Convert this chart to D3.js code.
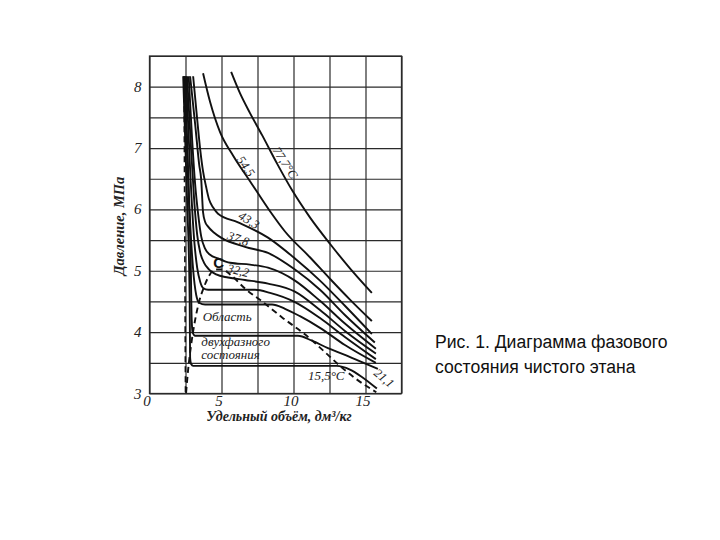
<!DOCTYPE html>
<html><head><meta charset="utf-8">
<script src="https://cdn.jsdelivr.net/npm/d3@7"></script>
<style>body{margin:0;background:#fff}</style>
</head><body>
<svg id="c" width="720" height="540"></svg>
<script>
// ---- tick values ----
const xTicks = [0, 5, 10, 15];
const yTicks = [3, 4, 5, 6, 7, 8];
const xGrid = [0, 2.5, 5, 7.5, 10, 12.5, 15, 17.5];
const yGrid = [3, 3.5, 4, 4.5, 5, 5.5, 6, 6.5, 7, 7.5, 8, 8.5];

// ---- isotherms: specific volume (dm3/kg) and pressure (MPa) ----
const v777 = [5.67, 6.29, 6.98, 7.82, 8.85, 9.96, 11.14, 12.53, 13.92, 15.44];
const p777 = [8.24, 7.89, 7.57, 7.21, 6.75, 6.29, 5.87, 5.44, 5.04, 4.64];
const v545 = [3.72, 4.21, 4.90, 5.80, 6.98, 8.37, 9.41, 11.14, 12.53, 13.92, 15.44];
const p545 = [8.22, 7.75, 7.26, 6.88, 6.46, 5.97, 5.64, 5.22, 4.87, 4.53, 4.18];
const v433 = [3.03, 3.31, 3.52, 3.72, 3.93, 4.14, 4.42, 4.76, 6.15, 8.23, 10.10, 11.84, 13.57, 15.44];
const p433 = [8.17, 7.47, 6.98, 6.62, 6.37, 6.16, 6.03, 5.93, 5.79, 5.54, 5.20, 4.84, 4.43, 3.97];
const v378 = [2.82, 3.17, 3.45, 3.59, 3.72, 3.86, 4.07, 4.49, 4.97, 6.63, 8.23, 10.10, 11.84, 13.57, 15.65];
const p378 = [8.17, 7.39, 6.73, 6.49, 5.95, 5.80, 5.72, 5.62, 5.54, 5.39, 5.29, 5.02, 4.69, 4.28, 3.83];
const v350 = [2.72, 2.96, 3.17, 3.38, 3.59, 3.86, 4.21, 4.76, 5.60, 6.98, 8.23, 10.10, 11.84, 13.57, 15.72];
const p350 = [8.17, 7.14, 6.41, 5.92, 5.56, 5.36, 5.26, 5.20, 5.13, 5.10, 5.05, 4.84, 4.51, 4.14, 3.73];
const v322 = [2.61, 2.89, 3.10, 3.31, 3.52, 3.79, 4.14, 4.63, 5.46, 6.63, 8.23, 10.10, 11.84, 13.57, 15.72];
const p322 = [8.17, 6.98, 6.16, 5.59, 5.30, 5.13, 5.02, 4.94, 4.89, 4.85, 4.79, 4.66, 4.36, 4.02, 3.65];
const v294 = [2.54, 2.82, 3.10, 3.31, 3.52, 3.72, 4.07, 7.33, 8.37, 10.10, 11.84, 13.57, 15.72];
const p294 = [8.17, 6.65, 5.51, 5.05, 4.82, 4.72, 4.69, 4.69, 4.64, 4.49, 4.23, 3.92, 3.56];
const v267 = [2.47, 2.75, 3.03, 3.24, 3.45, 3.86, 8.51, 9.41, 10.45, 11.84, 13.57, 15.72];
const p267 = [8.17, 6.16, 5.02, 4.61, 4.48, 4.45, 4.45, 4.38, 4.26, 4.07, 3.79, 3.50];
const v211 = [2.41, 2.68, 2.86, 2.93, 3.00, 3.17, 10.31, 11.28, 12.39, 13.57, 14.75, 15.86];
const p211 = [8.17, 6.49, 5.18, 4.20, 3.99, 3.94, 3.94, 3.86, 3.74, 3.63, 3.51, 3.40];
const v155 = [2.34, 2.61, 2.79, 2.82, 2.89, 3.03, 13.0, 13.92, 14.75, 15.79];
const p155 = [8.17, 6.16, 4.53, 3.58, 3.48, 3.45, 3.45, 3.39, 3.27, 3.08];

// ---- saturation (dashed) lines ----
const vDome = [2.54, 2.68, 2.89, 3.17, 3.45, 3.79, 4.14, 4.56, 5.04, 5.60, 6.63, 7.82, 9.21, 10.81, 12.39, 13.22, 14.27, 15.75];
const pDome = [3.01, 3.38, 3.79, 4.20, 4.50, 4.74, 4.92, 5.02, 5.02, 4.94, 4.71, 4.50, 4.24, 3.96, 3.63, 3.45, 3.25, 3.02];
const vLeft = [2.40, 2.50];
const pLeft = [8.17, 3.00];

const isoV = [v777, v545, v433, v378, v350, v322, v294, v267, v211, v155];
const isoP = [p777, p545, p433, p378, p350, p322, p294, p267, p211, p155];

const svg = d3.select('#c');
svg.append('rect').attr('width', 720).attr('height', 540).attr('fill', '#fff');

const x = d3.scaleLinear().domain([0, 17.5]).range([149.5, 401.5]);
const y = d3.scaleLinear().domain([3, 8.5]).range([393.5, 56]);

const serif = '"Liberation Serif", "DejaVu Serif", serif';

// grid
const gx = svg.append('g').attr('transform', `translate(0,${y(3)})`)
  .call(d3.axisBottom(x).tickValues(xGrid).tickSize(-(y(3) - y(8.5))).tickFormat(''));
const gy = svg.append('g').attr('transform', `translate(${x(0)},0)`)
  .call(d3.axisLeft(y).tickValues(yGrid).tickSize(-(x(17.5) - x(0))).tickFormat(''));
[gx, gy].forEach(g => {
  g.select('.domain').remove();
  g.selectAll('line').attr('stroke', '#2a2a2a').attr('stroke-width', 1.2);
});
svg.append('rect').attr('x', x(0)).attr('y', y(8.5)).attr('width', x(17.5) - x(0))
  .attr('height', y(3) - y(8.5)).attr('fill', 'none').attr('stroke', '#2a2a2a').attr('stroke-width', 1.3);

// tick labels
const ax = svg.append('g').attr('transform', `translate(-3,${y(3)})`)
  .call(d3.axisBottom(x).tickValues(xTicks).tickSize(0).tickPadding(2).tickFormat(d3.format('d')));
const ay = svg.append('g').attr('transform', `translate(${x(0)},0)`)
  .call(d3.axisLeft(y).tickValues(yTicks).tickSize(0).tickPadding(8).tickFormat(d3.format('d')));
[ax, ay].forEach(g => {
  g.select('.domain').remove();
  g.selectAll('text').attr('font-family', serif).attr('font-style', 'italic')
    .attr('font-size', 15).attr('fill', '#222');
});
ay.selectAll('text').attr('dy', '0.3em');

// curves
const line = d3.line().x(d => x(d[0])).y(d => y(d[1])).curve(d3.curveMonotoneX);
isoV.forEach((vs, i) => {
  const pts = vs.map((v, j) => [v, isoP[i][j]]);
  svg.append('path').attr('d', line(pts)).attr('fill', 'none')
    .attr('stroke', '#111').attr('stroke-width', 1.9).attr('stroke-linejoin', 'round');
});
svg.append('path').attr('d', line(vDome.map((v, j) => [v, pDome[j]])))
  .attr('fill', 'none').attr('stroke', '#111').attr('stroke-width', 1.9).attr('stroke-dasharray', '6,4');
svg.append('path').attr('d', d3.line().x(d => x(d[0])).y(d => y(d[1]))(vLeft.map((v, j) => [v, pLeft[j]])))
  .attr('fill', 'none').attr('stroke', '#111').attr('stroke-width', 1.6).attr('stroke-dasharray', '6,4');

// curve labels
function rlabel(txt, v, p, ang, size) {
  svg.append('text').attr('transform', `translate(${x(v)},${y(p)}) rotate(${ang})`)
    .attr('text-anchor', 'middle').attr('dominant-baseline', 'central')
    .attr('font-family', serif).attr('font-style', 'italic').attr('font-size', size || 12.5)
    .attr('fill', '#222').text(txt);
}
rlabel('77,7°C', 9.41, 6.76, 57);
rlabel('54,5', 6.68, 6.70, 55);
rlabel('43,3', 6.90, 5.82, 32);
rlabel('37,8', 6.16, 5.52, 20);
rlabel('32,2', 6.16, 5.00, 14);
rlabel('21,1', 16.28, 3.25, 40);

svg.append('text').attr('x', x(4.81)).attr('y', y(5.14)).attr('text-anchor', 'middle')
  .attr('dominant-baseline', 'central').attr('font-family', '"Liberation Sans", Arial, sans-serif')
  .attr('font-weight', 'bold').attr('font-size', 15).attr('fill', '#111').text('C');

function tlabel(txt, v, p) {
  svg.append('text').attr('x', x(v)).attr('y', y(p))
    .attr('font-family', serif).attr('font-style', 'italic').attr('font-size', 13)
    .attr('fill', '#222').text(txt);
}
tlabel('15,5°C', 11.0, 3.22);
tlabel('Область', 3.69, 4.18);
tlabel('двухфазного', 3.6, 3.78);
tlabel('состояния', 3.6, 3.56);

// axis titles
svg.append('text').attr('x', 279).attr('y', 421).attr('text-anchor', 'middle')
  .attr('font-family', serif).attr('font-style', 'italic').attr('font-weight', 'bold')
  .attr('font-size', 14).attr('fill', '#222').text('Удельный объём, дм³/кг');
svg.append('text').attr('transform', 'translate(124,226) rotate(-90)').attr('text-anchor', 'middle')
  .attr('font-family', serif).attr('font-style', 'italic').attr('font-weight', 'bold')
  .attr('font-size', 14.5).attr('fill', '#222').text('Давление, МПа');

// caption
const cap = svg.append('text').attr('font-family', '"Liberation Sans", Arial, sans-serif')
  .attr('font-size', 17.6).attr('fill', '#111');
cap.append('tspan').attr('x', 435).attr('y', 348).text('Рис. 1. Диаграмма фазового');
cap.append('tspan').attr('x', 435).attr('y', 373).text('состояния чистого этана');
</script>
</body></html>
